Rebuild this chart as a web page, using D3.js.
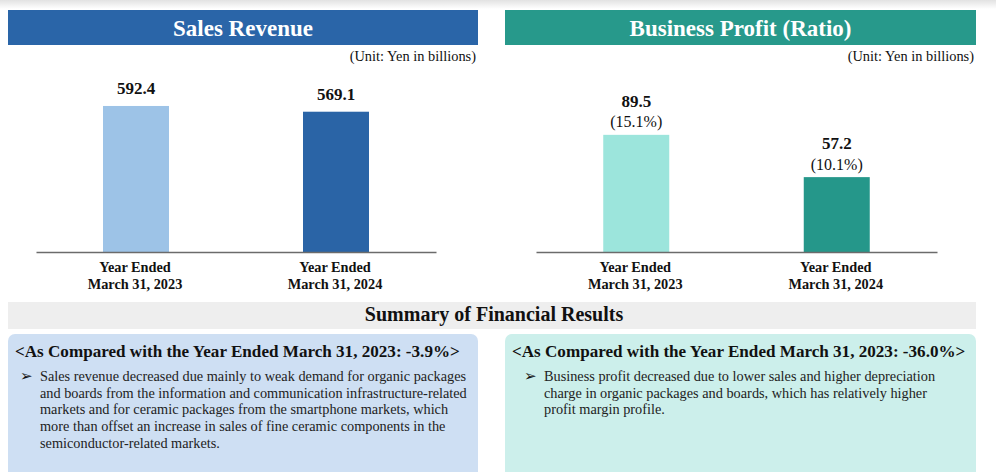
<!DOCTYPE html>
<html>
<head>
<meta charset="utf-8">
<script src="https://cdn.jsdelivr.net/npm/d3@7"></script>
<style>
  html, body { margin: 0; padding: 0; background: #fff; }
  svg { display: block; }
  text { font-family: "Liberation Serif", "Times New Roman", serif; }
</style>
</head>
<body>
<svg id="chart" width="996" height="472"></svg>
<script>
// ---- data ----
const categories = [["Year Ended", "March 31, 2023"], ["Year Ended", "March 31, 2024"]];
const salesValues = [592.4, 569.1];
const profitValues = [89.5, 57.2];
const profitRatios = ["(15.1%)", "(10.1%)"];
const salesTitle = "Sales Revenue";
const profitTitle = "Business Profit (Ratio)";
const unitLabel = "(Unit: Yen in billions)";
const summaryTitle = "Summary of Financial Results";
const salesHeading = "<As Compared with the Year Ended March 31, 2023: -3.9%>";
const salesBody = [
  "Sales revenue decreased due mainly to weak demand for organic packages",
  "and boards from the information and communication infrastructure-related",
  "markets and for ceramic packages from the smartphone markets, which",
  "more than offset an increase in sales of fine ceramic components in the",
  "semiconductor-related markets."
];
const profitHeading = "<As Compared with the Year Ended March 31, 2023: -36.0%>";
const profitBody = [
  "Business profit decreased due to lower sales and higher depreciation",
  "charge in organic packages and boards, which has relatively higher",
  "profit margin profile."
];

// ---- drawing ----
const svg = d3.select("#chart");
const defs = svg.append("defs");
const grad = defs.append("linearGradient").attr("id", "topfade").attr("x1", 0).attr("y1", 0).attr("x2", 0).attr("y2", 1);
grad.append("stop").attr("offset", "0%").attr("stop-color", "#e2e2e2");
grad.append("stop").attr("offset", "100%").attr("stop-color", "#ffffff");
svg.append("rect").attr("x", 0).attr("y", 0).attr("width", 996).attr("height", 9).attr("fill", "url(#topfade)");

function panel(opts) {
  const g = svg.append("g");
  g.append("rect").attr("x", opts.hx).attr("y", 10).attr("width", opts.hw).attr("height", 35).attr("fill", opts.headColor);
  g.append("text").attr("x", opts.hx + opts.hw / 2).attr("y", 36).attr("text-anchor", "middle")
    .attr("fill", "#fff").attr("font-weight", "bold").attr("font-size", 23).text(opts.title);
  g.append("text").attr("x", opts.hx + opts.hw - 2).attr("y", 61).attr("text-anchor", "end")
    .attr("fill", "#111").attr("font-size", 14.4).text(unitLabel);

  const x = d3.scalePoint().domain(d3.range(categories.length)).range(opts.axisRange).padding(0.5);
  const y = d3.scaleLinear().domain([0, opts.ymax]).range([252, opts.ytop]);
  const barW = 66;

  g.selectAll("rect.bar").data(opts.values).join("rect").attr("class", "bar")
    .attr("x", (d, i) => x(i) - barW / 2).attr("width", barW)
    .attr("y", d => y(d)).attr("height", d => y(0) - y(d))
    .attr("fill", (d, i) => opts.barColors[i]);

  const axis = d3.axisBottom(x).tickSize(0).tickFormat("");
  const ax = g.append("g").attr("transform", "translate(0,252)").call(axis);
  ax.select(".domain").attr("stroke", "#6b6b6b").attr("stroke-width", 1.3);

  const lab = g.selectAll("text.cat").data(categories).join("text").attr("class", "cat")
    .attr("text-anchor", "middle").attr("font-weight", "bold").attr("font-size", 14.3).attr("fill", "#111");
  lab.selectAll("tspan").data((d, i) => d.map(t => ({ t, i }))).join("tspan")
    .attr("x", d => x(d.i) - 1).attr("y", (d, j) => 272 + j * 16.5).text(d => d.t);

  opts.labels(g, x, y);
}

panel({
  hx: 8, hw: 470, headColor: "#2a65a8", title: salesTitle,
  axisRange: [36, 436], ymax: 740, ytop: 252 - 740 * 0.2465,
  values: salesValues, barColors: ["#9dc3e7", "#2a64a6"],
  labels: (g, x, y) => {
    g.selectAll("text.val").data(salesValues).join("text").attr("class", "val")
      .attr("x", (d, i) => x(i)).attr("y", d => y(d) - 11.5).attr("text-anchor", "middle")
      .attr("font-weight", "bold").attr("font-size", 17).attr("fill", "#111").text(d => d.toFixed(1));
  }
});

panel({
  hx: 505, hw: 471, headColor: "#27998b", title: profitTitle,
  axisRange: [536, 937], ymax: 130, ytop: 252 - 130 * 1.309,
  values: profitValues, barColors: ["#9ce5dc", "#25978a"],
  labels: (g, x, y) => {
    g.selectAll("text.val").data(profitValues).join("text").attr("class", "val")
      .attr("x", (d, i) => x(i)).attr("y", d => y(d) - 28).attr("text-anchor", "middle")
      .attr("font-weight", "bold").attr("font-size", 17).attr("fill", "#111").text(d => d.toFixed(1));
    g.selectAll("text.pct").data(profitRatios).join("text").attr("class", "pct")
      .attr("x", (d, i) => x(i)).attr("y", (d, i) => y(profitValues[i]) - 7.5).attr("text-anchor", "middle")
      .attr("font-size", 16).attr("fill", "#111").text(d => d);
  }
});

// summary band
svg.append("rect").attr("x", 8).attr("y", 302).attr("width", 968).attr("height", 27).attr("fill", "#eeeeee");
svg.append("text").attr("x", 494).attr("y", 321).attr("text-anchor", "middle")
  .attr("font-weight", "bold").attr("font-size", 20).attr("fill", "#111").text(summaryTitle);

function box(bx, bw, color, heading, body, bulletX, textX, bodySize) {
  const g = svg.append("g");
  g.append("rect").attr("x", bx).attr("y", 334).attr("width", bw).attr("height", 160).attr("rx", 7).attr("fill", color);
  g.append("text").attr("x", bx + 7).attr("y", 357).attr("font-weight", "bold").attr("font-size", 17.1)
    .attr("fill", "#111").text(heading);
  g.append("text").attr("x", bulletX).attr("y", 381).attr("font-size", 15)
    .attr("font-family", "DejaVu Sans").attr("fill", "#111").text("\u27A2");
  g.selectAll("text.body").data(body).join("text").attr("class", "body")
    .attr("x", textX).attr("y", (d, i) => 381 + i * 16.7)
    .attr("font-size", bodySize).attr("fill", "#222").text(d => d);
}
box(8, 470, "#cedff3", salesHeading, salesBody, 20, 40, 14.3);
box(505, 471, "#ccefeb", profitHeading, profitBody, 524, 544, 14.3);
</script>
</body>
</html>
